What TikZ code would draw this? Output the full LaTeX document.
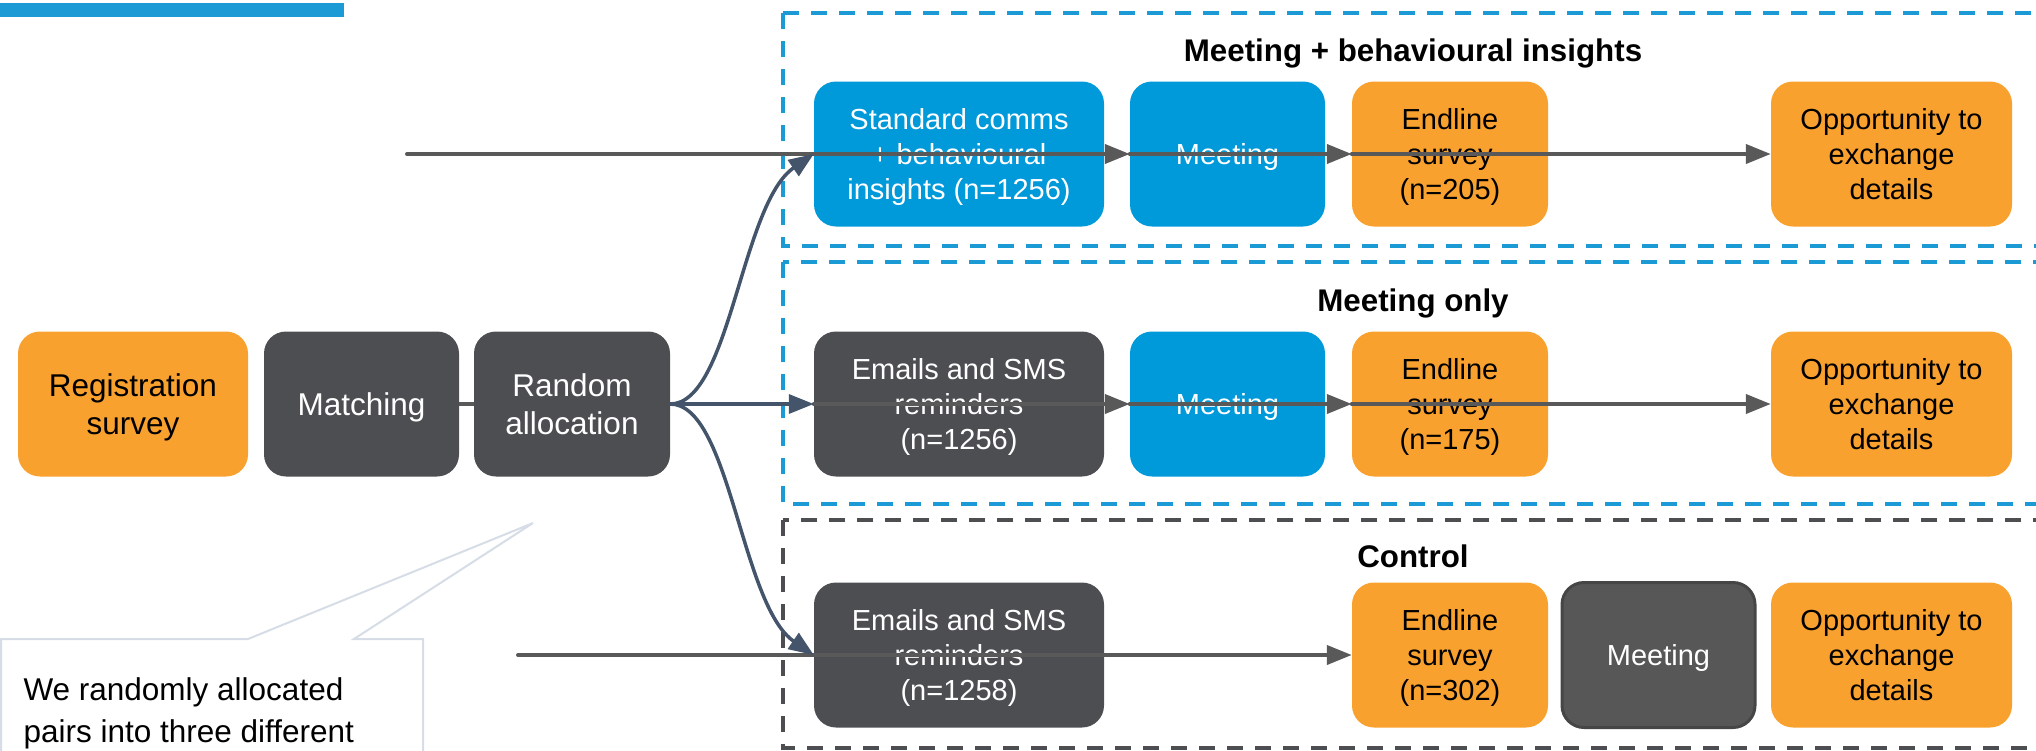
\documentclass[tikz,border=0pt]{standalone}
\usepackage{fontspec}
\setmainfont{Liberation Sans}
\usetikzlibrary{arrows.meta}

\definecolor{cOrange}{HTML}{F9A12E}
\definecolor{cBlue}{HTML}{0099DA}
\definecolor{cDark}{HTML}{4D4E52}
\definecolor{cCtrlMeet}{HTML}{575757}
\definecolor{cCtrlEdge}{HTML}{464646}
\definecolor{cBar}{HTML}{1B9AD6}
\definecolor{cLine}{HTML}{595959}
\definecolor{cSlate}{HTML}{44546A}
\definecolor{cCallout}{HTML}{D6DDE6}

\begin{document}
\begin{tikzpicture}[x=1pt,y=-1pt,
  box/.style={rounded corners=22pt, minimum height=145pt, inner sep=0pt,
    align=center, text depth=0pt, font=\fontsize{29}{35}\selectfont},
  bigtext/.style={font=\fontsize{31.5}{37.5}\selectfont},
  orangebox/.style={box, fill=cOrange, text=black},
  bluenode/.style={box, fill=cBlue, text=white},
  darknode/.style={box, fill=cDark, text=white},
  grouptitle/.style={anchor=base, font=\bfseries\fontsize{31.3}{37}\selectfont},
  groupblue/.style={draw=cBar, line width=3.5pt, dash pattern=on 16pt off 12pt},
  groupgray/.style={draw=cDark, line width=3.5pt, dash pattern=on 16pt off 12pt},
  flow/.style={draw=cLine, line width=4pt, line cap=round},
  flowarrow/.style={flow, -{Triangle[length=25pt,width=19pt]}},
  branch/.style={draw=cSlate, line width=3.5pt, -{Triangle[length=25pt,width=19pt]}},
  callouttext/.style={anchor=base west, font=\fontsize{31.5}{42}\selectfont}
]
\useasboundingbox (0,0) rectangle (2036,750);

% header bar
\fill[cBar] (0,3) rectangle (344,17);

% group frames
\draw[groupblue] (783,13) rectangle (2070,246);
\draw[groupblue] (783,262) rectangle (2070,504);
\draw[groupgray] (783,520) rectangle (2070,748);

% group titles
\node[grouptitle] (t1) at (1413,61) {Meeting + behavioural insights};
\node[grouptitle] (t2) at (1413,311) {Meeting only};
\node[grouptitle] (t3) at (1413,567) {Control};

% link behind the first steps
\draw[flow] (361,404) -- (572,404);

% common steps
\node[orangebox, bigtext, minimum width=230pt] (reg) at (133,404) {Registration\\survey};
\node[darknode, bigtext, minimum width=195pt] (match) at (361.5,404) {Matching};
\node[darknode, bigtext, minimum width=196pt] (ra) at (572,404) {Random\\allocation};

% row 1: meeting + behavioural insights
\node[bluenode, minimum width=290pt] (b1) at (959,154) {Standard comms\\+ behavioural\\insights (n=1256)};
\node[bluenode, minimum width=195pt] (m1) at (1227.5,154) {Meeting};
\node[orangebox, minimum width=196pt] (e1) at (1450,154) {Endline\\survey\\(n=205)};
\node[orangebox, minimum width=241pt] (o1) at (1891.5,154) {Opportunity to\\exchange\\details};

% row 2: meeting only
\node[darknode, minimum width=290pt] (b2) at (959,404) {Emails and SMS\\reminders\\(n=1256)};
\node[bluenode, minimum width=195pt] (m2) at (1227.5,404) {Meeting};
\node[orangebox, minimum width=196pt] (e2) at (1450,404) {Endline\\survey\\(n=175)};
\node[orangebox, minimum width=241pt] (o2) at (1891.5,404) {Opportunity to\\exchange\\details};

% row 3: control
\node[darknode, minimum width=290pt] (b3) at (959,655) {Emails and SMS\\reminders\\(n=1258)};
\node[orangebox, minimum width=196pt] (e3) at (1450,655) {Endline\\survey\\(n=302)};
\node[box, fill=cCtrlMeet, draw=cCtrlEdge, line width=3pt, text=white, minimum width=193pt] (m3) at (1658.5,655) {Meeting};
\node[orangebox, minimum width=241pt] (o3) at (1891.5,655) {Opportunity to\\exchange\\details};

% timelines
\coordinate (s1) at (407,154);
\coordinate (s3) at (518,655);
\draw[flow] (s1) -- (b1.west);
\draw[flowarrow] (b1.west) -- (m1.west);
\draw[flowarrow] (m1.west) -- (e1.west);
\draw[flowarrow] (e1.west) -- (o1.west);

\draw[flowarrow] (b2.west) -- (m2.west);
\draw[flowarrow] (m2.west) -- (e2.west);
\draw[flowarrow] (e2.west) -- (o2.west);

\draw[flow] (s3) -- (b3.west);
\draw[flowarrow] (b3.west) -- (e3.west);

% allocation branches
\draw[branch] (ra.east) .. controls +(60,0) and +(-73,50) .. (b1.west);
\draw[branch] (ra.east) -- (b2.west);
\draw[branch] (ra.east) .. controls +(60,0) and +(-73,-50) .. (b3.west);

% callout
\draw[draw=cCallout, line width=2pt, fill=white]
  (1,639) -- (248,639) -- (533,523) -- (354,639) -- (423,639) -- (423,770) -- (1,770) -- cycle;
\node[callouttext] (c1) at (20,700) {We randomly allocated};
\node[callouttext] (c2) at (20,742) {pairs into three different};
\end{tikzpicture}
\end{document}
